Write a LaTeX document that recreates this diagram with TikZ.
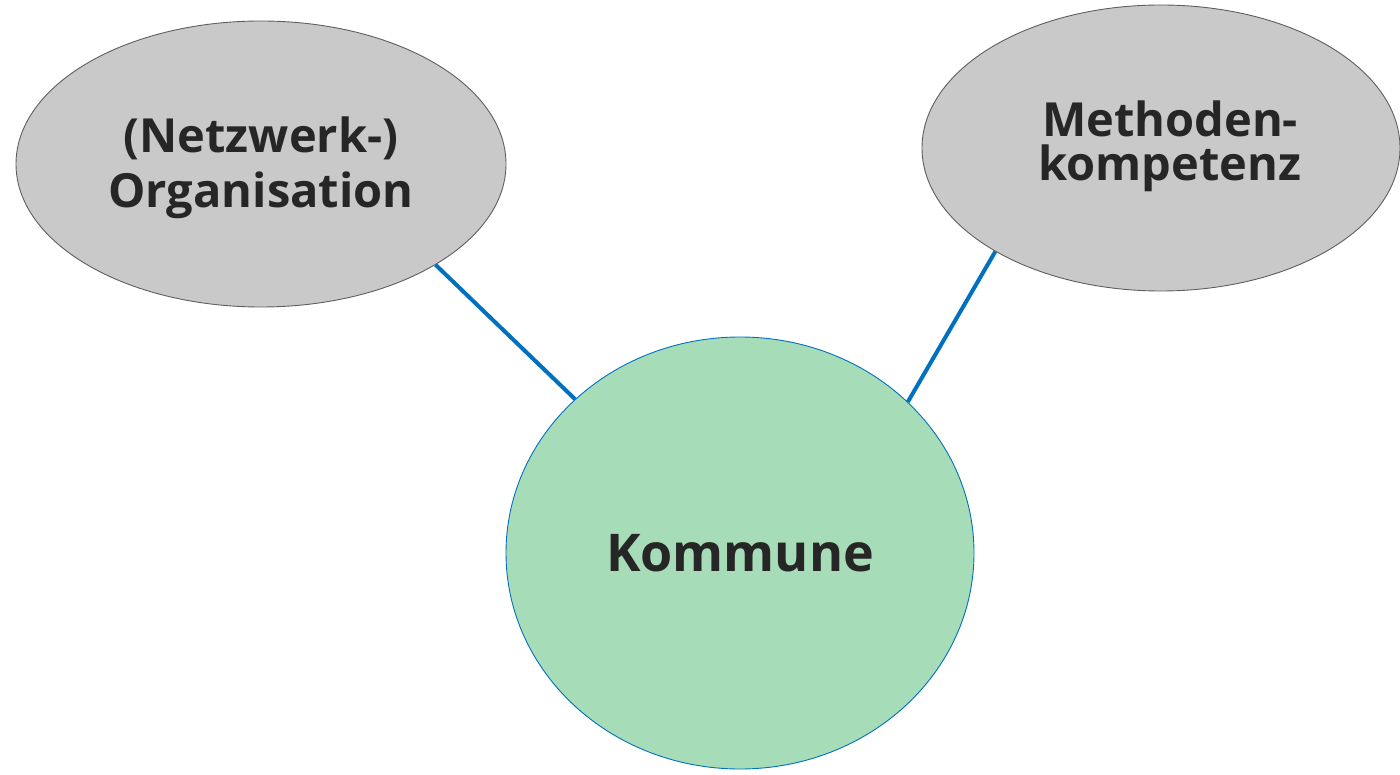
\documentclass[tikz,border=0pt]{standalone}
\usepackage{fontspec}
\setmainfont{Open Sans}
\usetikzlibrary{shapes.geometric}
\definecolor{txt}{HTML}{262626}
\definecolor{greyfill}{HTML}{C9C9C9}
\definecolor{greyline}{HTML}{5F5F5F}
\definecolor{greenfill}{HTML}{A6DDB8}
\definecolor{blueline}{HTML}{0070C0}
\tikzset{
  topic/.style={ellipse, draw=greyline, line width=0.9pt, fill=greyfill, inner sep=0pt},
  centre/.style={ellipse, draw=blueline, line width=0.9pt, fill=greenfill, inner sep=0pt},
  label text/.style={align=center, text=txt, inner sep=0pt},
  link/.style={draw=blueline, line width=4pt}
}
\begin{document}
\begin{tikzpicture}[x=1pt,y=-1pt]
\useasboundingbox (0,0) rectangle (1400,775);
\node[topic, minimum width=490pt, minimum height=286pt] (L) at (261,164) {};
\node[topic, minimum width=478pt, minimum height=286pt] (R) at (1161,148) {};
\node[centre, minimum width=468pt, minimum height=432pt] (K) at (740,553) {};
\node[label text, font=\bfseries\fontsize{47}{55}\selectfont] (Lt) at (261,168) {(Netzwerk-)\\Organisation};
\node[label text, font=\bfseries\fontsize{47}{44}\selectfont] (Rt) at (1170,146) {Methoden-\\kompetenz};
\node[label text, font=\bfseries\fontsize{52}{60}\selectfont] (Kt) at (740,553) {Kommune};
\draw[link] (L.-30.7) -- (K.137.5);
\draw[link] (R.-148.4) -- (K.42.5);
\end{tikzpicture}
\end{document}
